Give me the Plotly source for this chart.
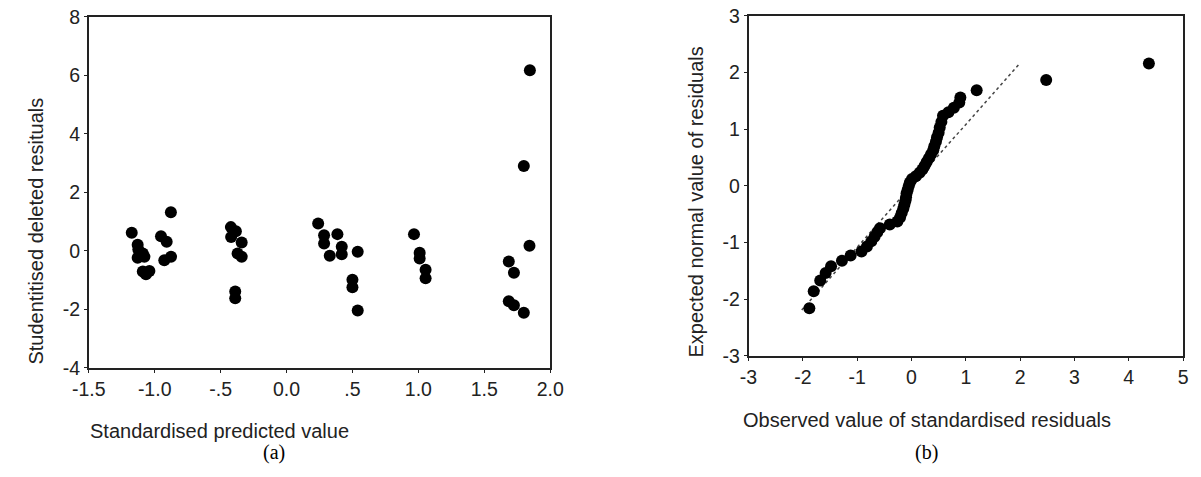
import plotly.graph_objects as go

# ---- Panel (a): studentised deleted residuals vs standardised predicted value
pred_x = [-1.174, -1.129, -1.124, -1.09, -1.129, -1.078, -1.09, -1.04, -1.066, -0.952, -0.909, -0.927, -0.876, -0.877,
          -0.422, -0.384, -0.42, -0.34, -0.371, -0.34, -0.389, -0.389,
          0.24, 0.285, 0.285, 0.386, 0.419, 0.419, 0.328, 0.54, 0.5, 0.5, 0.54,
          0.967, 1.01, 1.01, 1.055, 1.055,
          1.843, 1.686, 1.725, 1.686, 1.725, 1.80, 1.846, 1.80]
resid_y = [0.62, 0.21, 0.04, -0.09, -0.24, -0.20, -0.71, -0.69, -0.80, 0.50, 0.31, -0.32, -0.20, 1.32,
           0.81, 0.67, 0.47, 0.28, -0.09, -0.20, -1.39, -1.62,
           0.93, 0.53, 0.25, 0.57, 0.14, -0.12, -0.17, -0.03, -0.99, -1.25, -2.04,
           0.57, -0.07, -0.26, -0.65, -0.94,
           0.17, -0.37, -0.75, -1.73, -1.86, -2.12, 6.18, 2.90]
a_xticks = [-1.5, -1.0, -0.5, 0.0, 0.5, 1.0, 1.5, 2.0]
a_xticktext = ["-1.5", "-1.0", "-.5", "0.0", ".5", "1.0", "1.5", "2.0"]
a_yticks = [-4, -2, 0, 2, 4, 6, 8]
a_yticktext = ["-4", "-2", "0", "2", "4", "6", "8"]

# ---- Panel (b): normal Q-Q plot of standardised residuals
obs_x = [-1.88, -1.80, -1.68, -1.58, -1.48, -1.28, -1.12, -0.92, -0.82, -0.74, -0.68, -0.63, -0.58, -0.40,
         -0.26, -0.21, -0.18, -0.15, -0.13, -0.11, -0.10, -0.09, -0.07, -0.05, -0.03, 0.01, 0.08, 0.15,
         0.20, 0.24, 0.28, 0.32, 0.36, 0.40, 0.42, 0.45, 0.47, 0.50, 0.52, 0.55, 0.58, 0.68, 0.78, 0.88,
         0.90, 1.20, 2.48, 4.37]
exp_y = [-2.16, -1.86, -1.67, -1.54, -1.42, -1.32, -1.23, -1.16, -1.07, -0.98, -0.90, -0.82, -0.75, -0.68,
         -0.63, -0.56, -0.48, -0.40, -0.33, -0.26, -0.20, -0.13, -0.07, 0.00, 0.06, 0.12, 0.17, 0.23,
         0.29, 0.35, 0.42, 0.49, 0.56, 0.63, 0.70, 0.78, 0.86, 0.94, 1.03, 1.13, 1.24, 1.30, 1.38, 1.47,
         1.56, 1.69, 1.87, 2.16]
ref_line_x = [-2.02, 2.00]
ref_line_y = [-2.19, 2.17]
b_xticks = [-3, -2, -1, 0, 1, 2, 3, 4, 5]
b_xticktext = ["-3", "-2", "-1", "0", "1", "2", "3", "4", "5"]
b_yticks = [-3, -2, -1, 0, 1, 2, 3]
b_yticktext = ["-3", "-2", "-1", "0", "1", "2", "3"]

W, H = 1201, 477
FONT = "Liberation Sans, Arial, sans-serif"

# The photographed page appears inset/scaled; map target picture pixels to paper fractions.
OX, SX, OY, SY = 14.0, 0.9775, 8.0, 0.96

def px(x):
    return min(1.0, max(0.0, (x - OX) / SX / W))

def py(y):
    return min(1.0, max(0.0, 1 - (y - OY) / SY / H))

fig = go.Figure()
fig.add_trace(go.Scatter(x=pred_x, y=resid_y, mode="markers", xaxis="x", yaxis="y",
                         marker=dict(color="black", size=12, line=dict(width=0)), showlegend=False))
fig.add_trace(go.Scatter(x=ref_line_x, y=ref_line_y, mode="lines", xaxis="x2", yaxis="y2",
                         line=dict(color="#444", width=1.5, dash="3px,3px"), showlegend=False))
fig.add_trace(go.Scatter(x=obs_x, y=exp_y, mode="markers", xaxis="x2", yaxis="y2",
                         marker=dict(color="black", size=12, line=dict(width=0)), showlegend=False))

axis_common = dict(showgrid=False, zeroline=False, showline=True, linecolor="#222", linewidth=1.6,
                   mirror=True, ticks="outside", ticklen=3, tickcolor="#222",
                   ticklabeloverflow="allow",
                   tickfont=dict(family=FONT, size=19.5, color="#222"))

fig.update_layout(
    width=W, height=H, autosize=False,
    margin=dict(l=0, r=0, t=0, b=0),
    paper_bgcolor="white", plot_bgcolor="white",
    xaxis=dict(domain=[px(86), px(549)], range=[-1.5, 2.0], tickvals=a_xticks, ticktext=a_xticktext,
               anchor="y", **axis_common),
    yaxis=dict(domain=[py(367), py(14)], range=[-4, 8], tickvals=a_yticks, ticktext=a_yticktext,
               anchor="x", **axis_common),
    xaxis2=dict(domain=[px(748), 1197 / W], range=[-3, 5], tickvals=b_xticks, ticktext=b_xticktext,
                anchor="y2", **axis_common),
    yaxis2=dict(domain=[py(355), py(13)], range=[-3, 3], tickvals=b_yticks, ticktext=b_yticktext,
                anchor="x2", **axis_common),
)

ann_font = dict(family=FONT, size=20, color="#222")
serif = dict(family="Liberation Serif, Times New Roman, serif", size=20, color="black")

def label(x, y, text, font, angle=0, yanchor="middle"):
    fig.add_annotation(x=px(x), y=py(y), xref="paper", yref="paper", text=text, textangle=angle,
                       xanchor="center", yanchor=yanchor, showarrow=False, font=font)

label(217, 431, "Standardised predicted value", ann_font)
label(33, 229, "Studentitised deleted resituals", ann_font, -90)
label(272, 480, "(a)", serif, yanchor="bottom")
label(927, 420, "Observed value of standardised residuals", ann_font)
label(695, 200, "Expected normal value of residuals", ann_font, -90)
label(927, 480, "(b)", serif, yanchor="bottom")

fig.write_html("out.html")
